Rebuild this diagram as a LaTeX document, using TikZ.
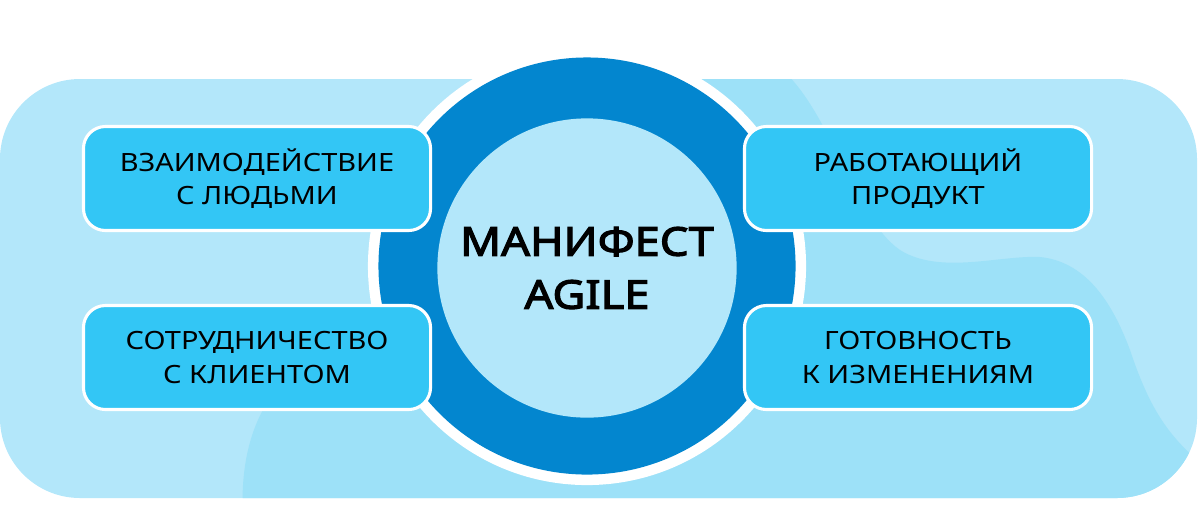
\documentclass[tikz,border=0pt]{standalone}
\usepackage{fontspec}
\setmainfont{Noto Sans}[FakeStretch=1.15]
\IfFontExistsTF{Noto Sans Bold}
  {\newfontfamily\titlefont{Noto Sans Bold}[FakeStretch=1.14]}
  {\newfontfamily\titlefont{Noto Sans}[FakeStretch=1.14,FakeBold=3]}
\usepackage{tikz}
\definecolor{bglight}{HTML}{B3E7FA}
\definecolor{bgdark}{HTML}{9DE1F8}
\definecolor{cardblue}{HTML}{33C6F5}
\definecolor{ringblue}{HTML}{0386CF}

\begin{document}
\begin{tikzpicture}[x=0.025cm,y=-0.025cm,
  card/.style={draw=white, line width=2.2pt, fill=cardblue, rounded corners=0.55cm,
    minimum width=8.675cm, minimum height=2.6cm, inner sep=0pt, align=center,
    font=\fontsize{17.9}{23.5}\selectfont},
  core/.style={circle, fill=bglight, minimum size=7.48cm, inner sep=0pt, align=center,
    font=\titlefont\fontsize{28.2}{37.7}\selectfont}]
\useasboundingbox (0,0) rectangle (1200,516);
\fill[bglight, rounded corners=2cm] (0,79) rectangle (1197,498);
\begin{scope}
\clip[rounded corners=2cm] (0,79) rectangle (1197,498);
\fill[bgdark] (243,520) .. controls (238,430) and (270,380) .. (330,340) -- (420,300) -- (470,180) -- (560,60) -- (770,60)
  .. controls (830,100) and (850,215) .. (900,250) .. controls (940,275) and (1000,255) .. (1040,257)
  .. controls (1090,262) and (1115,310) .. (1130,350) .. controls (1150,410) and (1170,440) .. (1210,470)
  -- (1210,520) -- cycle;
\end{scope}
\fill[white] (587,266) circle (5.475cm);
\fill[ringblue] (587,266) circle (5.2125cm);
\node[core] (agile) at (587,268) {МАНИФЕСТ\\AGILE};
\node[card] (people) at (257,178.5) {ВЗАИМОДЕЙСТВИЕ\\С ЛЮДЬМИ};
\node[card] (client) at (257,357.5) {СОТРУДНИЧЕСТВО\\С КЛИЕНТОМ};
\node[card] (product) at (918,178.5) {РАБОТАЮЩИЙ\\ПРОДУКТ};
\node[card] (change) at (918,357.5) {ГОТОВНОСТЬ\\К ИЗМЕНЕНИЯМ};
\end{tikzpicture}
\end{document}
